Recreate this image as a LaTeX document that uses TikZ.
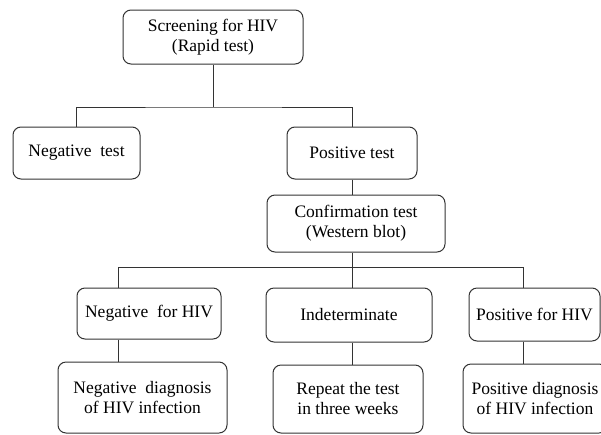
\documentclass[tikz,border=0pt]{standalone}
\usepackage{fontspec}
\setmainfont{Liberation Serif}
\usepackage{tikz}

\begin{document}
\begin{tikzpicture}[x=1pt,y=-1pt,
  box/.style={draw=black!80, line width=1pt, rounded corners=8pt, align=center, inner sep=0pt,
    font=\fontsize{17.5}{20}\selectfont},
  link/.style={draw=black!80, line width=1pt}]
\useasboundingbox (0,0) rectangle (601,434);
\node[box, minimum width=180, minimum height=54] (top) at (213,37) {Screening for HIV\\(Rapid test)};
\node[box, minimum width=127, minimum height=52] (neg) at (76.5,153) {Negative\ \ test};
\node[box, minimum width=130, minimum height=52] (pos) at (352,153) {Positive test};
\node[box, minimum width=178, minimum height=57] (conf) at (356,223.5) {Confirmation test\\(Western blot)};
\node[box, minimum width=144, minimum height=51] (negH) at (149,313.5) {Negative\ \ for HIV};
\node[box, minimum width=166, minimum height=54] (ind) at (349,315) {Indeterminate};
\node[box, minimum width=131, minimum height=53] (posH) at (534.5,314.5) {Positive for HIV};
\node[box, minimum width=169, minimum height=71] (negD) at (142.5,397.5) {Negative\ \ diagnosis\\of HIV infection};
\node[box, minimum width=150, minimum height=68] (rep) at (348,399) {Repeat the test\\in three weeks};
\node[box, minimum width=144, minimum height=69] (posD) at (535,398.5) {Positive diagnosis\\of HIV infection};
\coordinate (bus1) at (213,107);
\coordinate (bus2) at (352,267);
\coordinate (b2l) at (118,267);
\coordinate (b2r) at (523,267);
\draw[link] (top.south) -- (bus1);
\draw[link] (neg.north) |- (bus1) -| (pos.north);
\draw[link] (pos.south) -- (pos.south |- conf.north);
\draw[link] (bus2 |- conf.south) -- (bus2);
\draw[link] (b2l) -- (b2r);
\draw[link] (b2l) -- (b2l |- negH.north);
\draw[link] (bus2) -- (bus2 |- ind.north);
\draw[link] (b2r) -- (b2r |- posH.north);
\draw[link] (b2l |- negH.south) -- (b2l |- negD.north);
\draw[link] (bus2 |- ind.south) -- (bus2 |- rep.north);
\draw[link] (b2r |- posH.south) -- (b2r |- posD.north);
\end{tikzpicture}
\end{document}
